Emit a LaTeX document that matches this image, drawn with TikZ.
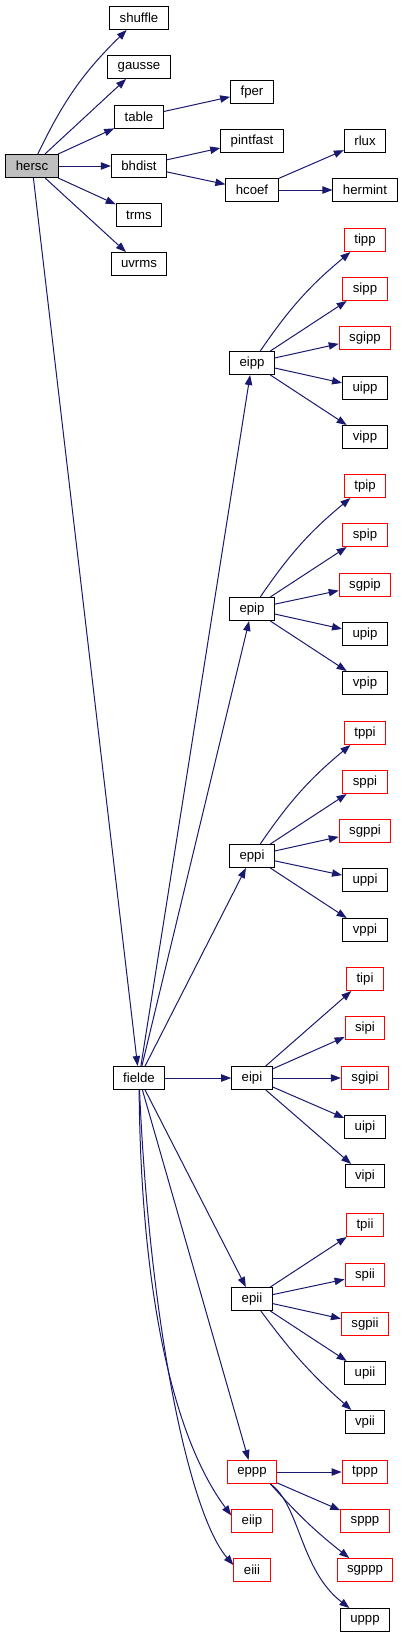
\documentclass[tikz,border=0pt]{standalone}
\usepackage{fontspec}
\setmainfont{Liberation Sans}
\usetikzlibrary{arrows.meta}
\definecolor{edgeblue}{RGB}{25, 25, 112}
\definecolor{missingred}{RGB}{255, 0, 0}
\definecolor{rootgray}{RGB}{191, 191, 191}

\begin{document}
\begin{tikzpicture}[
    x=0.75pt, y=-0.75pt,
    box/.style={draw, line width=0.75pt, minimum height=17.25pt, inner xsep=7.5pt, inner ysep=0pt, font=\fontsize{9.9}{12}\selectfont},
    redbox/.style={box, draw=missingred},
    rootbox/.style={box, fill=rootgray},
    arrow/.style={-{Triangle[length=7.5pt, width=5.5pt]}, draw=edgeblue, line width=0.75pt}
]
\useasboundingbox (0,0) rectangle (403,1639);

% Column 1: caller
\node[rootbox] (hersc) at (32,166) {hersc};

% Column 2
\node[box] (shuffle) at (139,18) {shuffle};
\node[box] (gausse) at (139,67) {gausse};
\node[box] (table) at (139,117) {table};
\node[box] (bhdist) at (139,166) {bhdist};
\node[box] (trms) at (139,215) {trms};
\node[box] (uvrms) at (139,264) {uvrms};
\node[box] (fielde) at (139,1078) {fielde};

% Column 3
\node[box] (fper) at (252,92) {fper};
\node[box] (pintfast) at (252,141) {pintfast};
\node[box] (hcoef) at (252,190) {hcoef};
\node[box] (eipp) at (252,363) {eipp};
\node[box] (epip) at (252,609) {epip};
\node[box] (eppi) at (252,856) {eppi};
\node[box] (eipi) at (252,1078) {eipi};
\node[box] (epii) at (252,1299) {epii};
\node[redbox] (eppp) at (252,1472) {eppp};
\node[redbox] (eiip) at (252,1521) {eiip};
\node[redbox] (eiii) at (252,1570) {eiii};

% Column 4
\node[box] (rlux) at (365,141) {rlux};
\node[box] (hermint) at (365,190) {hermint};

\node[redbox] (tipp) at (365,240) {tipp};
\node[redbox] (sipp) at (365,289) {sipp};
\node[redbox] (sgipp) at (365,338) {sgipp};
\node[box] (uipp) at (365,388) {uipp};
\node[box] (vipp) at (365,437) {vipp};

\node[redbox] (tpip) at (365,486) {tpip};
\node[redbox] (spip) at (365,535) {spip};
\node[redbox] (sgpip) at (365,585) {sgpip};
\node[box] (upip) at (365,634) {upip};
\node[box] (vpip) at (365,683) {vpip};

\node[redbox] (tppi) at (365,733) {tppi};
\node[redbox] (sppi) at (365,782) {sppi};
\node[redbox] (sgppi) at (365,831) {sgppi};
\node[box] (uppi) at (365,880) {uppi};
\node[box] (vppi) at (365,930) {vppi};

\node[redbox] (tipi) at (365,979) {tipi};
\node[redbox] (sipi) at (365,1028) {sipi};
\node[redbox] (sgipi) at (365,1078) {sgipi};
\node[box] (uipi) at (365,1127) {uipi};
\node[box] (vipi) at (365,1176) {vipi};

\node[redbox] (tpii) at (365,1225) {tpii};
\node[redbox] (spii) at (365,1275) {spii};
\node[redbox] (sgpii) at (365,1324) {sgpii};
\node[box] (upii) at (365,1373) {upii};
\node[box] (vpii) at (365,1422) {vpii};

\node[redbox] (tppp) at (365,1472) {tppp};
\node[redbox] (sppp) at (365,1521) {sppp};
\node[redbox] (sgppp) at (365,1570) {sgppp};
\node[box] (uppp) at (365,1620) {uppp};

% Arrows from hersc
\draw[arrow] (hersc) to[bend left=10] (shuffle);
\draw[arrow] (hersc) -- (gausse);
\draw[arrow] (hersc) -- (table);
\draw[arrow] (hersc) -- (bhdist);
\draw[arrow] (hersc) -- (trms);
\draw[arrow] (hersc) -- (uvrms);
\draw[arrow] (hersc) -- (fielde);
\draw[arrow] (table) -- (fper);
\draw[arrow] (bhdist) -- (pintfast);
\draw[arrow] (bhdist) -- (hcoef);
\draw[arrow] (hcoef) -- (rlux);
\draw[arrow] (hcoef) -- (hermint);

% Arrows from fielde
\draw[arrow] (fielde) -- (eipp);
\draw[arrow] (fielde) -- (epip);
\draw[arrow] (fielde) -- (eppi);
\draw[arrow] (fielde) -- (eipi);
\draw[arrow] (fielde) -- (epii);
\draw[arrow] (fielde) -- (eppp);
\draw[arrow] (fielde) .. controls (141,1300) and (175,1440) .. (eiip.165);
\draw[arrow] (fielde) .. controls (150,1330) and (190,1515) .. (eiii.165);

% eipp group
\draw[arrow] (eipp) to[bend left=8] (tipp);
\draw[arrow] (eipp) -- (sipp);
\draw[arrow] (eipp) -- (sgipp);
\draw[arrow] (eipp) -- (uipp);
\draw[arrow] (eipp) -- (vipp);

% epip group
\draw[arrow] (epip) to[bend left=8] (tpip);
\draw[arrow] (epip) -- (spip);
\draw[arrow] (epip) -- (sgpip);
\draw[arrow] (epip) -- (upip);
\draw[arrow] (epip) -- (vpip);

% eppi group
\draw[arrow] (eppi) to[bend left=8] (tppi);
\draw[arrow] (eppi) -- (sppi);
\draw[arrow] (eppi) -- (sgppi);
\draw[arrow] (eppi) -- (uppi);
\draw[arrow] (eppi) -- (vppi);

% eipi group
\draw[arrow] (eipi) -- (tipi);
\draw[arrow] (eipi) -- (sipi);
\draw[arrow] (eipi) -- (sgipi);
\draw[arrow] (eipi) -- (uipi);
\draw[arrow] (eipi) -- (vipi);

% epii group
\draw[arrow] (epii) -- (tpii);
\draw[arrow] (epii) -- (spii);
\draw[arrow] (epii) -- (sgpii);
\draw[arrow] (epii) -- (upii);
\draw[arrow] (epii) to[bend right=6] (vpii);

% eppp group
\draw[arrow] (eppp) -- (tppp);
\draw[arrow] (eppp) -- (sppp);
\draw[arrow] (eppp.-33) to[bend right=5] (sgppp);
\draw[arrow] (eppp.-33) .. controls (300,1505) and (300,1570) .. (uppp);

\end{tikzpicture}
\end{document}
